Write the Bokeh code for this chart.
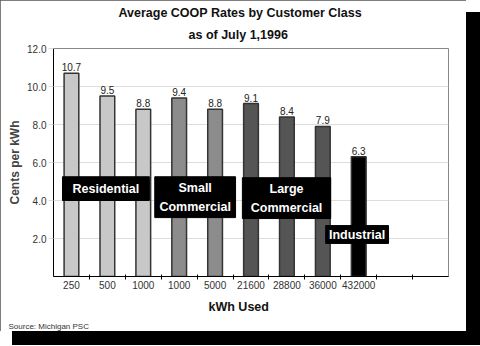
from bokeh.plotting import figure
from bokeh.models import ColumnDataSource, FixedTicker, Title, NumeralTickFormatter
from bokeh.core.properties import value
from bokeh.embed import file_html
from bokeh.resources import INLINE

# ---- data ----
tick_labels = ["250", "500", "1000", "1000", "5000", "21600", "28800", "36000", "432000", "", ""]
rates = [10.7, 9.5, 8.8, 9.4, 8.8, 9.1, 8.4, 7.9, 6.3]
rate_labels = ["10.7", "9.5", "8.8", "9.4", "8.8", "9.1", "8.4", "7.9", "6.3"]
bar_group = ["Residential", "Residential", "Residential",
             "Small Commercial", "Small Commercial",
             "Large Commercial", "Large Commercial", "Large Commercial",
             "Industrial"]
group_names = ["Residential", "Small Commercial", "Large Commercial", "Industrial"]
group_texts = ["Residential", "Small\nCommercial", "Large\nCommercial", "Industrial"]
y_ticks = [2, 4, 6, 8, 10, 12]
title_line1 = "Average COOP Rates by Customer Class"
title_line2 = "as of July 1,1996"
x_title = "kWh Used"
y_title = "Cents per kWh"
source_note = "Source: Michigan PSC"

# ---- styles / layout ----
group_colors = {"Residential": "#c8c8c8", "Small Commercial": "#8c8c8c",
                "Large Commercial": "#555555", "Industrial": "#000000"}
# group label boxes: left, right, bottom, top (data units)
box_left = [-0.25, 2.32, 4.76, 7.08]
box_right = [2.17, 4.57, 7.22, 8.83]
box_bottom = [4.0, 3.1, 3.05, 1.74]
box_top = [5.25, 5.25, 5.2, 2.68]
FONT = "Liberation Sans"

xs = list(range(len(rates)))
src = ColumnDataSource(dict(x=xs, top=rates, lab=rate_labels,
                            color=[group_colors[g] for g in bar_group]))

p = figure(width=466, height=331, output_backend="svg", toolbar_location=None,
           title=None,
           x_range=(-0.5, len(tick_labels) - 0.5), y_range=(0, 12),
           min_border_left=53, min_border_right=18, min_border_top=48,
           min_border_bottom=55, background_fill_color="white",
           border_fill_color="white",
           styles={"box-shadow": "13px 13px 0px 1px black",
                   "outline": "1px solid #555555", "outline-offset": "-1px"})
p.outline_line_color = "#888888"
p.outline_line_width = 1

p.add_layout(Title(text=title_line2, align="left", offset=135, text_font=FONT,
                   text_font_style="bold", text_font_size="12.5px",
                   text_color="#111111", standoff=13), "above")
p.add_layout(Title(text=title_line1, align="left", offset=65, text_font=FONT,
                   text_font_style="bold", text_font_size="12.5px",
                   text_color="#111111", standoff=0), "above")

p.vbar(x="x", top="top", width=0.41, bottom=0, source=src, fill_color="color",
       line_color="#333333", line_width=1.5)
p.text(x="x", y="top", text="lab", source=src, text_align="center",
       text_baseline="bottom", y_offset=-2, text_font=value(FONT),
       text_font_size="10px", text_color="#222222")

# group boxes
gsrc = ColumnDataSource(dict(left=box_left, right=box_right, bottom=box_bottom, top=box_top,
                             txt=group_texts,
                             cx=[(a + b) / 2 for a, b in zip(box_left, box_right)],
                             cy=[(a + b) / 2 for a, b in zip(box_bottom, box_top)]))
p.quad(left="left", right="right", bottom="bottom", top="top", source=gsrc,
       fill_color="black", line_color="black")
p.text(x="cx", y="cy", text="txt", source=gsrc, text_align="center",
       text_baseline="middle", text_font=value(FONT), text_font_style="bold",
       text_font_size="12.5px", text_color="white", text_line_height=1.35)

# axes
p.xgrid.visible = False
p.ygrid.ticker = FixedTicker(ticks=[2, 4, 6, 8, 10])
p.ygrid.grid_line_color = "#dddddd"

p.yaxis.ticker = FixedTicker(ticks=y_ticks)
p.yaxis.formatter = NumeralTickFormatter(format="0.0")
p.yaxis.major_tick_in = 0
p.yaxis.major_tick_out = 5
p.yaxis.major_tick_line_color = "#dddddd"
p.yaxis.minor_tick_line_color = None
p.yaxis.axis_line_color = "black"
p.yaxis.major_label_text_font = FONT
p.yaxis.major_label_text_font_size = "10px"
p.yaxis.major_label_text_color = "#333333"
p.yaxis.major_label_standoff = 2
p.yaxis.axis_label = y_title
p.yaxis.axis_label_text_font = FONT
p.yaxis.axis_label_text_font_style = "bold"
p.yaxis.axis_label_text_font_size = "12px"
p.yaxis.axis_label_standoff = 2

p.xaxis.ticker = FixedTicker(ticks=list(range(len(tick_labels))),
                             minor_ticks=[i + 0.5 for i in range(len(tick_labels) - 1)])
p.xaxis.major_label_overrides = {i: t for i, t in enumerate(tick_labels)}
p.xaxis.major_tick_in = 0
p.xaxis.major_tick_out = 0
p.xaxis.minor_tick_in = 2
p.xaxis.minor_tick_out = 3
p.xaxis.minor_tick_line_color = "black"
p.xaxis.axis_line_color = "black"
p.xaxis.major_label_text_font = FONT
p.xaxis.major_label_text_font_size = "10px"
p.xaxis.major_label_text_color = "#333333"
p.xaxis.major_label_standoff = 1

p.add_layout(Title(text=x_title, align="left", offset=155, text_font=FONT,
                   text_font_style="bold", text_font_size="12.5px",
                   text_color="#111111", standoff=12), "below")
p.add_layout(Title(text=source_note, align="left", offset=-45, text_font=FONT,
                   text_font_style="normal", text_font_size="8px",
                   text_color="#333333", standoff=0), "below")

open("out.html", "w").write(file_html(p, INLINE))
